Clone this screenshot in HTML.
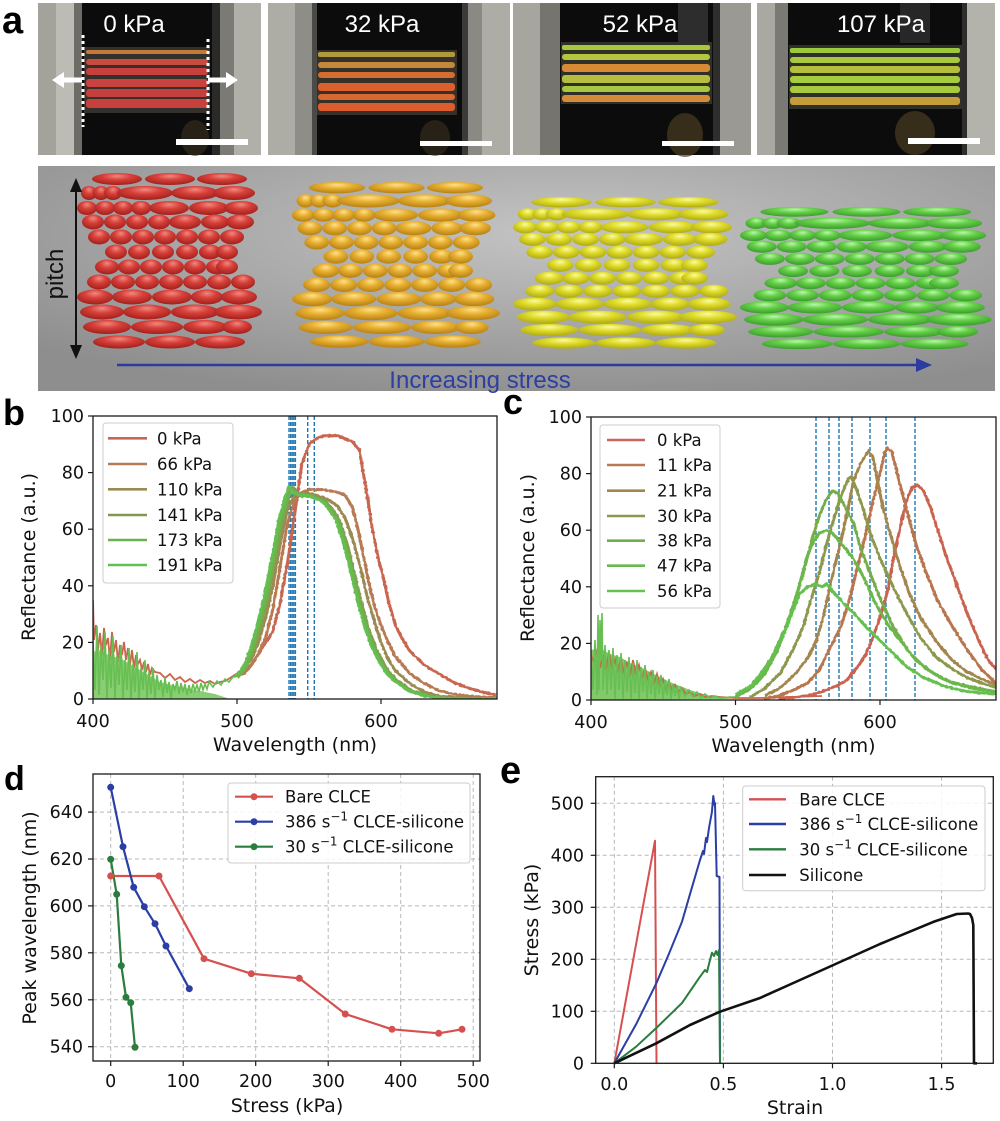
<!DOCTYPE html>
<html><head><meta charset="utf-8"><style>
html,body{margin:0;padding:0;background:#fff;}
svg{display:block;}
</style></head><body>
<svg width="1000" height="1121" viewBox="0 0 1000 1121" xmlns="http://www.w3.org/2000/svg">
<defs>
<radialGradient id="bgG" cx="0.55" cy="0.3" r="0.75"><stop offset="0" stop-color="#c4c4c4"/><stop offset="1" stop-color="#8e8e8e"/></radialGradient>
<radialGradient id="gR" cx="0.5" cy="0.35" fx="0.5" fy="0.25" r="0.7"><stop offset="0" stop-color="#f08a80"/><stop offset="0.4" stop-color="#d8403a"/><stop offset="1" stop-color="#9a1c18"/></radialGradient>
<radialGradient id="gO" cx="0.5" cy="0.35" fx="0.5" fy="0.25" r="0.7"><stop offset="0" stop-color="#ffe08a"/><stop offset="0.4" stop-color="#e8b030"/><stop offset="1" stop-color="#b07a12"/></radialGradient>
<radialGradient id="gY" cx="0.5" cy="0.35" fx="0.5" fy="0.25" r="0.7"><stop offset="0" stop-color="#fbfba0"/><stop offset="0.4" stop-color="#e0dc2a"/><stop offset="1" stop-color="#a8a412"/></radialGradient>
<radialGradient id="gG" cx="0.5" cy="0.35" fx="0.5" fy="0.25" r="0.7"><stop offset="0" stop-color="#b8f8a8"/><stop offset="0.4" stop-color="#66d048"/><stop offset="1" stop-color="#34962a"/></radialGradient>
<filter id="jit" x="-3%" y="-3%" width="106%" height="106%">
<feTurbulence type="fractalNoise" baseFrequency="0.35" numOctaves="1" seed="4" result="t"/>
<feDisplacementMap in="SourceGraphic" in2="t" scale="2.5" xChannelSelector="R" yChannelSelector="G"/>
</filter>
<clipPath id="cpB"><rect x="93" y="416" width="404" height="283"/></clipPath>
<clipPath id="cpC"><rect x="591" y="417" width="405" height="283"/></clipPath>
<g id="cl">
<ellipse cx="40" cy="6" rx="25" ry="6"/><ellipse cx="93" cy="6" rx="25" ry="6"/><ellipse cx="145" cy="6" rx="25" ry="6"/>
<ellipse cx="12" cy="20" rx="8" ry="7"/><ellipse cx="24" cy="20" rx="8" ry="7"/><ellipse cx="36" cy="20" rx="9" ry="7"/><ellipse cx="68" cy="20" rx="28" ry="7"/><ellipse cx="118" cy="20" rx="24" ry="7"/><ellipse cx="157" cy="20" rx="21" ry="7"/>
<ellipse cx="10" cy="35" rx="10" ry="7"/><ellipse cx="28" cy="35" rx="10" ry="7"/><ellipse cx="46" cy="35" rx="10" ry="7"/><ellipse cx="64" cy="35" rx="10" ry="7"/><ellipse cx="92" cy="35" rx="20" ry="7"/><ellipse cx="132" cy="35" rx="20" ry="7"/><ellipse cx="164" cy="35" rx="17" ry="7"/>
<ellipse cx="16" cy="49" rx="11" ry="7.5"/><ellipse cx="38" cy="49" rx="11" ry="7.5"/><ellipse cx="60" cy="49" rx="11" ry="7.5"/><ellipse cx="82" cy="49" rx="11" ry="7.5"/><ellipse cx="108" cy="49" rx="16" ry="7.5"/><ellipse cx="138" cy="49" rx="14" ry="7.5"/><ellipse cx="163" cy="49" rx="14" ry="7.5"/>
<ellipse cx="22" cy="64" rx="11" ry="7.5"/><ellipse cx="44" cy="64" rx="11" ry="7.5"/><ellipse cx="66" cy="64" rx="11" ry="7.5"/><ellipse cx="88" cy="64" rx="11" ry="7.5"/><ellipse cx="110" cy="64" rx="11" ry="7.5"/><ellipse cx="132" cy="64" rx="11" ry="7.5"/><ellipse cx="155" cy="64" rx="12" ry="7.5"/>
<ellipse cx="39" cy="79" rx="11" ry="7.5"/><ellipse cx="62" cy="79" rx="11" ry="7.5"/><ellipse cx="86" cy="79" rx="11" ry="7.5"/><ellipse cx="110" cy="79" rx="11" ry="7.5"/><ellipse cx="133" cy="79" rx="11" ry="7.5"/><ellipse cx="150" cy="79" rx="11" ry="7.5"/>
<ellipse cx="30" cy="94" rx="12" ry="7.5"/><ellipse cx="52" cy="94" rx="11" ry="7.5"/><ellipse cx="74" cy="94" rx="11" ry="7.5"/><ellipse cx="96" cy="94" rx="11" ry="7.5"/><ellipse cx="118" cy="94" rx="11" ry="7.5"/><ellipse cx="140" cy="94" rx="11" ry="7.5"/><ellipse cx="150" cy="94" rx="11" ry="7.5"/>
<ellipse cx="22" cy="109" rx="12" ry="7.5"/><ellipse cx="46" cy="109" rx="12" ry="7.5"/><ellipse cx="70" cy="109" rx="12" ry="7.5"/><ellipse cx="94" cy="109" rx="12" ry="7.5"/><ellipse cx="118" cy="109" rx="12" ry="7.5"/><ellipse cx="142" cy="109" rx="12" ry="7.5"/><ellipse cx="166" cy="109" rx="12" ry="7.5"/>
<ellipse cx="18" cy="124" rx="18" ry="7.5"/><ellipse cx="55" cy="124" rx="20" ry="7.5"/><ellipse cx="95" cy="124" rx="20" ry="7.5"/><ellipse cx="130" cy="124" rx="16" ry="7.5"/><ellipse cx="162" cy="124" rx="18" ry="7.5"/>
<ellipse cx="25" cy="139" rx="22" ry="7.5"/><ellipse cx="70" cy="139" rx="24" ry="7.5"/><ellipse cx="118" cy="139" rx="24" ry="7.5"/><ellipse cx="161" cy="139" rx="24" ry="7.5"/>
<ellipse cx="30" cy="154" rx="24" ry="7"/><ellipse cx="80" cy="154" rx="26" ry="7"/><ellipse cx="128" cy="154" rx="22" ry="7"/><ellipse cx="160" cy="154" rx="15" ry="7"/>
<ellipse cx="42" cy="169" rx="26" ry="6.5"/><ellipse cx="93" cy="169" rx="25" ry="6.5"/><ellipse cx="143" cy="169" rx="25" ry="6.5"/>
</g>
<path id="gb" fill="none" d="M237,676.4 L244.2,667.9 251.4,650.9 258.6,625.4 265.8,597.1 273,560.3 280.2,520.7 287.4,495.2 290.3,486.8 294.6,492.4 301.8,495.2 309,495.2 316.2,498.1 323.4,500.9 330.6,509.4 337.8,520.7 345,543.4 352.2,571.7 359.4,602.8 366.6,628.3 373.8,648.1 381,662.2 388.2,673.5 395.4,680.6 409.8,690.5 424.2,694.8 438.6,697.6 453,699 500,699"/>
</defs>

<rect width="1000" height="1121" fill="#fff"/>

<!-- ===== Panel a photos ===== -->
<g>
<rect x="38" y="3" width="223" height="152" fill="#aeada6"/>
<rect x="38" y="3" width="18" height="152" fill="#a3a29b"/>
<rect x="56" y="3" width="20" height="152" fill="#bcbbb4"/>
<rect x="74" y="3" width="8" height="152" fill="#6d6c67"/>
<rect x="82" y="3" width="130" height="152" fill="#0c0c0c"/>
<rect x="212" y="3" width="8" height="152" fill="#2a2a28"/>
<rect x="220" y="3" width="14" height="152" fill="#7b7a75"/>
<rect x="234" y="3" width="27" height="152" fill="#b0afa8"/>
<ellipse cx="195" cy="138" rx="14" ry="18" fill="#3a3020" opacity="0.6"/>
<rect x="84" y="47" width="126" height="66" fill="#34302c"/>
<g transform="translate(86,0)">
<rect y="50" width="122" height="4" rx="2" fill="#c07a3a"/>
<rect y="59" width="122" height="6" rx="3" fill="#c94a3e"/>
<rect y="68" width="122" height="7" rx="3" fill="#c8403e"/>
<rect y="79" width="122" height="8" rx="3" fill="#c8423f"/>
<rect y="89" width="122" height="8" rx="3" fill="#c4403c"/>
<rect y="99" width="122" height="9" rx="3" fill="#c6403d"/>
</g>
<line x1="83" y1="35" x2="83" y2="127" stroke="#fff" stroke-width="3" stroke-dasharray="3 3"/>
<line x1="208" y1="39" x2="208" y2="130" stroke="#fff" stroke-width="3" stroke-dasharray="3 3"/>
<line x1="82" y1="80" x2="62" y2="80" stroke="#fff" stroke-width="5"/>
<polygon points="52,80 64,72 64,88" fill="#fff"/>
<line x1="208" y1="80" x2="227" y2="80" stroke="#fff" stroke-width="5"/>
<polygon points="238,80 226,72 226,88" fill="#fff"/>
<rect x="176" y="139" width="72" height="6" fill="#fff"/>
<text x="134" y="32" font-family="Liberation Sans, sans-serif" font-size="24" fill="#fff" text-anchor="middle">0 kPa</text>
</g>

<g>
<rect x="268" y="3" width="242" height="152" fill="#adaca5"/>
<rect x="295" y="3" width="17" height="152" fill="#8e8d87"/>
<rect x="312" y="3" width="5" height="152" fill="#4a4a47"/>
<rect x="317" y="3" width="145" height="152" fill="#0c0c0c"/>
<rect x="462" y="3" width="6" height="152" fill="#3a3a38"/>
<rect x="468" y="3" width="14" height="152" fill="#8a8983"/>
<ellipse cx="435" cy="138" rx="15" ry="18" fill="#3a3020" opacity="0.6"/>
<rect x="317" y="50" width="140" height="65" fill="#35302a"/>
<g transform="translate(318,0)">
<rect y="52" width="137" height="5" rx="2" fill="#b09a3c"/>
<rect y="62" width="137" height="6" rx="3" fill="#c4883a"/>
<rect y="72" width="137" height="6" rx="3" fill="#d46e30"/>
<rect y="83" width="137" height="8" rx="3" fill="#dc602c"/>
<rect y="94" width="137" height="6" rx="3" fill="#d86830"/>
<rect y="103" width="137" height="8" rx="3" fill="#dc5c2c"/>
</g>
<rect x="420" y="141" width="72" height="5" fill="#fff"/>
<text x="382" y="32" font-family="Liberation Sans, sans-serif" font-size="24" fill="#fff" text-anchor="middle">32 kPa</text>
</g>

<g>
<rect x="513" y="3" width="238" height="152" fill="#a6a59e"/>
<rect x="540" y="3" width="20" height="152" fill="#75746f"/>
<rect x="560" y="3" width="153" height="152" fill="#0c0c0c"/>
<rect x="678" y="3" width="30" height="40" fill="#3c3c3c" opacity="0.7"/>
<rect x="713" y="3" width="7" height="152" fill="#2e2e2c"/>
<rect x="720" y="3" width="31" height="152" fill="#9a9993"/>
<ellipse cx="685" cy="135" rx="18" ry="22" fill="#4a3c22" opacity="0.7"/>
<rect x="561" y="42" width="151" height="62" fill="#303028"/>
<g transform="translate(562,0)">
<rect y="45" width="148" height="5" rx="2" fill="#a6c83c"/>
<rect y="54" width="148" height="6" rx="3" fill="#b4c640"/>
<rect y="64" width="148" height="8" rx="3" fill="#d68a34"/>
<rect y="75" width="148" height="8" rx="3" fill="#b6be40"/>
<rect y="86" width="148" height="6" rx="3" fill="#a6c83e"/>
<rect y="95" width="148" height="7" rx="3" fill="#d48c36"/>
</g>
<rect x="662" y="141" width="72" height="5" fill="#fff"/>
<text x="640" y="32" font-family="Liberation Sans, sans-serif" font-size="24" fill="#fff" text-anchor="middle">52 kPa</text>
</g>

<g>
<rect x="757" y="3" width="238" height="152" fill="#a9a8a1"/>
<rect x="775" y="3" width="13" height="152" fill="#7a7974"/>
<rect x="788" y="3" width="174" height="152" fill="#0c0c0c"/>
<rect x="900" y="3" width="30" height="40" fill="#3a3a3a" opacity="0.6"/>
<rect x="962" y="3" width="5" height="152" fill="#2e2e2c"/>
<rect x="967" y="3" width="28" height="152" fill="#b3b2ab"/>
<ellipse cx="915" cy="133" rx="20" ry="22" fill="#4a3c22" opacity="0.7"/>
<rect x="789" y="45" width="173" height="64" fill="#30302a"/>
<g transform="translate(790,0)">
<rect y="48" width="170" height="5" rx="2" fill="#9cc83c"/>
<rect y="57" width="170" height="6" rx="3" fill="#a8c840"/>
<rect y="66" width="170" height="7" rx="3" fill="#b4c03c"/>
<rect y="76" width="170" height="7" rx="3" fill="#a4cc3e"/>
<rect y="86" width="170" height="7" rx="3" fill="#a8c83e"/>
<rect y="97" width="170" height="8" rx="3" fill="#c49c38"/>
</g>
<rect x="908" y="138" width="72" height="6" fill="#fff"/>
<text x="881" y="32" font-family="Liberation Sans, sans-serif" font-size="24" fill="#fff" text-anchor="middle">107 kPa</text>
</g>

<!-- ===== Ellipsoid panel ===== -->
<rect x="38" y="166" width="957" height="225" fill="url(#bgG)"/>
<use href="#cl" fill="url(#gR)" transform="translate(77,173)"/>
<use href="#cl" fill="url(#gO)" transform="translate(292,182) scale(1.124,0.944)"/>
<use href="#cl" fill="url(#gY)" transform="translate(513,197) scale(1.21,0.864)"/>
<use href="#cl" fill="url(#gG)" transform="translate(740,207) scale(1.36,0.81)"/>
<line x1="76" y1="188" x2="76" y2="348" stroke="#111" stroke-width="2"/>
<polygon points="76,178 70,192 82,192" fill="#111"/>
<polygon points="76,359 70,345 82,345" fill="#111"/>
<text transform="translate(63,274) rotate(-90)" font-family="Liberation Sans, sans-serif" font-size="24" fill="#111" text-anchor="middle">pitch</text>
<line x1="117" y1="365" x2="920" y2="365" stroke="#2a3ca0" stroke-width="2.5"/>
<polygon points="932,365 916,358 916,372" fill="#2a3ca0"/>
<text x="480" y="388" font-family="Liberation Sans, sans-serif" font-size="24" fill="#2d3fa0" text-anchor="middle">Increasing stress</text>

<!-- panel letters -->
<g font-family="Liberation Sans, sans-serif" font-weight="bold" fill="#000">
<text x="2" y="33" font-size="38">a</text>
<text x="3" y="425" font-size="36">b</text>
<text x="503" y="414" font-size="36">c</text>
<text x="4" y="790" font-size="34">d</text>
<text x="500" y="783" font-size="38">e</text>
</g>

<!-- ===== Panel b ===== -->
<g clip-path="url(#cpB)">
<g stroke="#1f77b4" stroke-width="1.4" stroke-dasharray="4 2">
<line x1="289" y1="416" x2="289" y2="699"/><line x1="290.6" y1="416" x2="290.6" y2="699"/><line x1="292.2" y1="416" x2="292.2" y2="699"/><line x1="293.8" y1="416" x2="293.8" y2="699"/><line x1="295.4" y1="416" x2="295.4" y2="699"/>
<line x1="307.7" y1="416" x2="307.7" y2="699"/><line x1="314.3" y1="416" x2="314.3" y2="699"/>
</g>
<path fill="none" stroke="#c9664f" stroke-width="1.8" d="M93,600 L94,640 96,625 98,650 100,633 102,655 104,628 106,645 108,638 110,660 112,632 114,652 116,640 118,662 120,645 122,655 124,642 126,660 128,648 130,665 132,650 134,668 136,655 138,664 140,660 142,670 144,662 146,672 148,664 150,675 152,668 155,672 160,673 165,678 170,674 175,680 180,677 185,682 190,679 195,683 200,680 205,683 210,681 215,684 220,682 225,681 230,678 237,673.5"/>
<polygon points="93,652 100,650 110,656 120,658 130,664 140,670 150,676 160,682 175,686 195,690 215,694 230,699 93,699" fill="#6cc052" opacity="0.8"/>
<path fill="none" stroke="#66bf50" stroke-width="1.6" d="M93,640 L95,690 97,626 99,695 101,645 103,680 105,632 107,699 109,650 111,688 113,636 115,699 117,655 119,685 121,645 123,699 125,660 127,690 129,648 131,699 133,664 135,692 137,652 139,699 141,668 143,690 145,660 147,699 149,672 151,694 153,668 155,699 157,675 159,690 161,680 163,697 165,678 167,693 169,682 171,699 173,684 175,690 177,681 179,694 181,683 183,692 185,684 187,695 189,685 191,693 193,684 195,691 197,685 199,692 201,683 203,690 205,684 207,689 209,682 213,687 217,681 221,685 225,679 229,682 233,677 237,676.4"/>
<g filter="url(#jit)" fill="none" stroke-width="3" stroke-linejoin="round">
<path stroke="#c9664f" d="M237,673.5 L244.2,670.7 251.4,665 258.6,653.7 265.8,642.4 273,631.1 280.2,602.8 287.4,563.2 294.6,515 301.8,464.1 309,444.3 316.2,438.6 323.4,435.8 337.8,435.8 345,438.6 352.2,441.5 359.4,450 363.7,475.4 368,500.9 372.3,529.2 378.1,557.5 383.9,580.1 388.2,600 395.4,625.4 402.6,639.6 409.8,650.9 424.2,665 438.6,673.5 453,682 467.4,687.7 481.8,691.9 496.2,694.8"/>
<path stroke="#b77a52" d="M237,676.4 L244.2,673.5 251.4,665 258.6,653.7 265.8,636.7 273,608.4 280.2,566 287.4,523.5 294.6,500.9 301.8,492.4 309,489.6 323.4,489.6 337.8,492.4 345,495.2 352.2,506.6 358,529.2 363.7,557.5 369.5,585.8 375.2,608.4 381,625.4 388.2,642.4 395.4,656.6 409.8,673.5 424.2,683.4 438.6,690.5 453,693.9 467.4,696.2 496.2,697.6"/>
<path stroke="#9d8a52" d="M237,676.4 L251.4,659.4 258.6,642.4 265.8,616.9 273,585.8 280.2,543.4 287.4,509.4 294.6,495.2 301.8,492.4 316.2,495.2 330.6,500.9 337.8,506.6 345,517.9 352.2,537.7 359.4,563.2 366.6,594.3 373.8,619.8 381,642.4 388.2,659.4 395.4,670.7 409.8,683.4 424.2,691.9 438.6,696.2 467.4,698.2 500,699"/>
<use href="#gb" stroke="#82a04f" transform="translate(2,0)"/>
<use href="#gb" stroke="#6db24e" transform="translate(0.5,1)"/>
<use href="#gb" stroke="#63c050" transform="translate(-1.5,0)"/>
</g>
</g>
<rect x="93" y="416" width="404" height="283" fill="none" stroke="#1a1a1a" stroke-width="1.3"/>
<g fill="#fff" fill-opacity="0.85" stroke="#cccccc" stroke-width="1"><rect x="103" y="423" width="130" height="160" rx="3"/></g>
<g stroke-width="2.6">
<line x1="108" y1="438.3" x2="147" y2="438.3" stroke="#c8645a"/>
<line x1="108" y1="464" x2="147" y2="464" stroke="#b87a55"/>
<line x1="108" y1="489.3" x2="147" y2="489.3" stroke="#9c8a55"/>
<line x1="108" y1="515" x2="147" y2="515" stroke="#7f9a50"/>
<line x1="108" y1="540" x2="147" y2="540" stroke="#6cb050"/>
<line x1="108" y1="565" x2="147" y2="565" stroke="#62c050"/>
</g>
<g font-family="DejaVu Sans, sans-serif" font-size="16.5" fill="#111">
<text x="157" y="444.3">0 kPa</text><text x="157" y="470">66 kPa</text><text x="157" y="495.3">110 kPa</text><text x="157" y="521">141 kPa</text><text x="157" y="546">173 kPa</text><text x="157" y="571">191 kPa</text>
</g>
<g stroke="#1a1a1a" stroke-width="1.2">
<line x1="88" y1="699" x2="93" y2="699"/><line x1="88" y1="642.4" x2="93" y2="642.4"/><line x1="88" y1="585.8" x2="93" y2="585.8"/><line x1="88" y1="529.2" x2="93" y2="529.2"/><line x1="88" y1="472.6" x2="93" y2="472.6"/><line x1="88" y1="416" x2="93" y2="416"/>
<line x1="93" y1="699" x2="93" y2="704"/><line x1="237" y1="699" x2="237" y2="704"/><line x1="381" y1="699" x2="381" y2="704"/>
</g>
<g font-family="DejaVu Sans, sans-serif" font-size="17.5" fill="#111" text-anchor="end">
<text x="84" y="705">0</text><text x="84" y="648.4">20</text><text x="84" y="591.8">40</text><text x="84" y="535.2">60</text><text x="84" y="478.6">80</text><text x="84" y="422">100</text>
</g>
<g font-family="DejaVu Sans, sans-serif" font-size="17.5" fill="#111" text-anchor="middle">
<text x="93" y="727">400</text><text x="237" y="727">500</text><text x="381" y="727">600</text>
</g>
<text x="295" y="751" font-family="DejaVu Sans, sans-serif" font-size="19" fill="#111" text-anchor="middle">Wavelength (nm)</text>
<text transform="translate(35,557) rotate(-90)" font-family="DejaVu Sans, sans-serif" font-size="19" fill="#111" text-anchor="middle">Reflectance (a.u.)</text>

<!-- ===== Panel c ===== -->
<g clip-path="url(#cpC)">
<g stroke="#1f77b4" stroke-width="1.4" stroke-dasharray="4 2">
<line x1="816" y1="417" x2="816" y2="700"/><line x1="829" y1="417" x2="829" y2="700"/><line x1="839" y1="417" x2="839" y2="700"/><line x1="852" y1="417" x2="852" y2="700"/><line x1="870" y1="417" x2="870" y2="700"/><line x1="886" y1="417" x2="886" y2="700"/><line x1="915" y1="417" x2="915" y2="700"/>
</g>
<polygon points="591,650 600,648 610,654 620,657 630,663 640,667 650,672 660,677 670,682 690,690 710,696 730,699 591,700" fill="#6cc052" opacity="0.85"/>
<path fill="none" stroke="#c9664f" stroke-width="1.8" d="M591,655 L594,662 597,650 600,668 603,655 606,670 609,652 612,668 615,660 618,672 621,658 624,674 627,662 630,676 633,660 636,675 639,665 642,678 645,668 648,680 651,672 654,684 657,674 660,686 663,679 666,690 669,682 672,690 675,685 678,692 682,688 686,694 690,692 695,696 700,694 705,697 712,696 720,697 735,698 760,698 790,697 822,696"/>
<path fill="none" stroke="#66bf50" stroke-width="1.6" d="M591,650 L593,690 595,640 597,695 598,615 599,690 600,620 601,660 602,613 603,690 605,645 607,695 609,650 611,690 613,648 615,699 617,655 619,690 621,653 623,699 625,660 627,692 629,657 631,699 633,663 635,693 637,660 639,699 641,667 643,692 645,665 647,699 649,672 651,694 653,670 655,699 657,676 659,694 661,675 663,699 665,680 667,695 669,679 671,699 673,684 675,696 677,686 679,699 681,688 685,696 689,690 693,697 697,692 701,698 705,694 710,698 715,696 720,698 730,697 735,697"/>
<g filter="url(#jit)" fill="none" stroke-width="3" stroke-linejoin="round">
<path stroke="#c9644f" d="M778.9,698.6 L793.3,697.2 807.8,695.8 822.2,691.5 836.7,685.9 846.8,680.2 858.3,666 865.6,654.7 872.8,637.7 880,617.9 887.2,592.5 894.5,552.8 900.2,527.4 906,501.9 911.8,487.8 917.6,484.9 923.4,490.6 930.6,507.6 937.8,530.2 945,552.8 952.3,572.7 959.5,592.5 966.7,612.3 973.9,629.3 981.2,646.2 988.4,660.4 995.6,668.9 1000,672"/>
<path stroke="#b8764f" d="M764.4,698.6 L778.9,695.8 793.3,690.1 807.8,683 819.3,670 829.4,649.1 841,626.4 848.2,603.8 854,581.1 861.2,552.8 867,527.4 872.8,501.9 880,473.6 884.3,453.8 887.2,448.1 891.6,450.9 897.3,473.6 906,507.6 916.1,544.4 926.2,572.7 937.8,601 952.3,626.4 966.7,649.1 981.2,668.9 995.6,683 1000,686"/>
<path stroke="#a3864e" d="M764.4,695.8 L778.9,688.7 796.2,673.1 807.8,657.6 816.4,640.6 822.2,620.8 829.4,589.6 835.2,564.2 841,541.5 848.2,507.6 854,479.3 861.2,462.3 868.4,451 872.8,456.6 877.1,479.3 882.9,507.6 891.6,538.7 900.2,567 908.9,592.5 920.5,617.9 937.8,643.4 952.3,660.4 966.7,671.7 981.2,678.8 995.6,684.4 1000,686"/>
<path stroke="#8c984d" d="M750,697.2 L764.4,688.7 780.3,673.1 793.3,649.1 803.4,626.4 810.6,601 819.3,572.7 826.5,544.4 833.8,518.9 841,496.2 848.2,479.3 851.1,476.4 856.9,490.6 862.7,507.6 871.3,535.9 880,558.5 894.5,589.6 906,612.3 920.5,637.7 936.4,657.6 952.3,668.9 966.7,677.4 981.2,683 995.6,687.3 1000,688"/>
<path stroke="#74ad4c" d="M735.5,697.2 L750,688.7 763,673.1 774.5,651.9 786.1,626.4 794.7,601 803.4,572.7 812.1,538.7 819.3,516 826.5,499.1 832.3,490.6 838.1,493.4 845.3,507.6 854,524.5 861.2,550 869.9,572.7 880,598.1 893,626.4 908.9,651.9 926.2,668.9 945,680.2 966.7,685.9 986.9,690.1 995.6,691.5 1000,692"/>
<path stroke="#6bb84c" d="M735.5,695.8 L752.8,686.7 764.4,674.5 776,653.3 784.6,632.1 793.3,606.6 800.5,581.1 806.3,558.5 813.5,541.5 819.3,533 826.5,530.2 832.3,533 839.5,541.5 846.8,550 854,559.9 864.1,578.3 874.2,601 887.2,623.6 900.2,640.6 916.1,660.4 933.5,673.1 952.3,683 973.9,688.7 995.6,691.5 1000,692"/>
<path stroke="#65c150" d="M735.5,694.3 L750,686.7 760.1,674.5 770.2,660.4 778.9,643.4 786.8,626.4 793.3,609.4 799.9,593.3 807.8,586.8 815,584 822.2,586.8 826.5,584 833.8,592.5 843.9,603.8 854,613.4 865.6,626.4 880,640.6 894.5,654.7 906.7,666.9 923.4,677.4 945.9,686.7 966.7,691.5 995.6,694.3 1000,695"/>
</g>
</g>
<rect x="591" y="417" width="405" height="283" fill="none" stroke="#1a1a1a" stroke-width="1.3"/>
<g fill="#fff" fill-opacity="0.85" stroke="#cccccc" stroke-width="1"><rect x="600" y="425" width="120" height="183" rx="3"/></g>
<g stroke-width="2.6">
<line x1="607" y1="440" x2="645" y2="440" stroke="#c8645a"/>
<line x1="607" y1="465" x2="645" y2="465" stroke="#b87a55"/>
<line x1="607" y1="490.7" x2="645" y2="490.7" stroke="#a3864e"/>
<line x1="607" y1="516" x2="645" y2="516" stroke="#8c984d"/>
<line x1="607" y1="540.7" x2="645" y2="540.7" stroke="#6fae4c"/>
<line x1="607" y1="565.7" x2="645" y2="565.7" stroke="#6bb84c"/>
<line x1="607" y1="591" x2="645" y2="591" stroke="#65c150"/>
</g>
<g font-family="DejaVu Sans, sans-serif" font-size="16.5" fill="#111">
<text x="657" y="446">0 kPa</text><text x="657" y="471">11 kPa</text><text x="657" y="496.7">21 kPa</text><text x="657" y="522">30 kPa</text><text x="657" y="546.7">38 kPa</text><text x="657" y="571.7">47 kPa</text><text x="657" y="597">56 kPa</text>
</g>
<g stroke="#1a1a1a" stroke-width="1.2">
<line x1="586" y1="700" x2="591" y2="700"/><line x1="586" y1="643.4" x2="591" y2="643.4"/><line x1="586" y1="586.8" x2="591" y2="586.8"/><line x1="586" y1="530.2" x2="591" y2="530.2"/><line x1="586" y1="473.6" x2="591" y2="473.6"/><line x1="586" y1="417" x2="591" y2="417"/>
<line x1="591" y1="700" x2="591" y2="705"/><line x1="735.5" y1="700" x2="735.5" y2="705"/><line x1="880" y1="700" x2="880" y2="705"/>
</g>
<g font-family="DejaVu Sans, sans-serif" font-size="17.5" fill="#111" text-anchor="end">
<text x="582" y="706">0</text><text x="582" y="649.4">20</text><text x="582" y="592.8">40</text><text x="582" y="536.2">60</text><text x="582" y="479.6">80</text><text x="582" y="423">100</text>
</g>
<g font-family="DejaVu Sans, sans-serif" font-size="17.5" fill="#111" text-anchor="middle">
<text x="591" y="728">400</text><text x="735.5" y="728">500</text><text x="880" y="728">600</text>
</g>
<text x="793.5" y="752" font-family="DejaVu Sans, sans-serif" font-size="19" fill="#111" text-anchor="middle">Wavelength (nm)</text>
<text transform="translate(534,558) rotate(-90)" font-family="DejaVu Sans, sans-serif" font-size="19" fill="#111" text-anchor="middle">Reflectance (a.u.)</text>

<!-- ===== Panel d ===== -->
<g stroke="#b8b8b8" stroke-width="1" stroke-dasharray="4 3">
<line x1="110.7" y1="774" x2="110.7" y2="1061"/><line x1="183.2" y1="774" x2="183.2" y2="1061"/><line x1="255.7" y1="774" x2="255.7" y2="1061"/><line x1="328.2" y1="774" x2="328.2" y2="1061"/><line x1="400.7" y1="774" x2="400.7" y2="1061"/><line x1="473.2" y1="774" x2="473.2" y2="1061"/>
<line x1="93" y1="1046.7" x2="480" y2="1046.7"/><line x1="93" y1="999.8" x2="480" y2="999.8"/><line x1="93" y1="952.8" x2="480" y2="952.8"/><line x1="93" y1="905.9" x2="480" y2="905.9"/><line x1="93" y1="859" x2="480" y2="859"/><line x1="93" y1="812.1" x2="480" y2="812.1"/>
</g>
<g fill="none" stroke-width="2.2" stroke-linejoin="round">
<polyline stroke="#d65050" points="110.7,876 159,876 204,958.7 251.3,973.7 299.3,978.3 345.3,1014 392,1029.3 438.7,1033.3 462,1029.3"/>
<polyline stroke="#2a3ea5" points="110.7,787.3 123,846.7 133.7,887.3 144.3,906.7 155,923.7 166,946 189.3,988.7"/>
<polyline stroke="#2b7d3f" points="110.7,859.3 116.7,894.3 121.3,965.7 126,997.3 130.7,1002.7 135,1047.3"/>
</g>
<g fill="#d65050"><circle cx="110.7" cy="876" r="3.5"/><circle cx="159" cy="876" r="3.5"/><circle cx="204" cy="958.7" r="3.5"/><circle cx="251.3" cy="973.7" r="3.5"/><circle cx="299.3" cy="978.3" r="3.5"/><circle cx="345.3" cy="1014" r="3.5"/><circle cx="392" cy="1029.3" r="3.5"/><circle cx="438.7" cy="1033.3" r="3.5"/><circle cx="462" cy="1029.3" r="3.5"/></g>
<g fill="#2a3ea5"><circle cx="110.7" cy="787.3" r="3.5"/><circle cx="123" cy="846.7" r="3.5"/><circle cx="133.7" cy="887.3" r="3.5"/><circle cx="144.3" cy="906.7" r="3.5"/><circle cx="155" cy="923.7" r="3.5"/><circle cx="166" cy="946" r="3.5"/><circle cx="189.3" cy="988.7" r="3.5"/></g>
<g fill="#2b7d3f"><circle cx="110.7" cy="859.3" r="3.5"/><circle cx="116.7" cy="894.3" r="3.5"/><circle cx="121.3" cy="965.7" r="3.5"/><circle cx="126" cy="997.3" r="3.5"/><circle cx="130.7" cy="1002.7" r="3.5"/><circle cx="135" cy="1047.3" r="3.5"/></g>
<rect x="93" y="774" width="387" height="287" fill="none" stroke="#1a1a1a" stroke-width="1.3"/>
<rect x="228" y="783" width="242" height="80" rx="3" fill="#fff" fill-opacity="0.85" stroke="#cccccc"/>
<g stroke-width="2.2">
<line x1="235" y1="796.7" x2="273" y2="796.7" stroke="#d65050"/><circle cx="254" cy="796.7" r="3.5" fill="#d65050"/>
<line x1="235" y1="821.7" x2="273" y2="821.7" stroke="#2a3ea5"/><circle cx="254" cy="821.7" r="3.5" fill="#2a3ea5"/>
<line x1="235" y1="846.7" x2="273" y2="846.7" stroke="#2b7d3f"/><circle cx="254" cy="846.7" r="3.5" fill="#2b7d3f"/>
</g>
<g font-family="DejaVu Sans, sans-serif" font-size="16.5" fill="#111">
<text x="285" y="802.7">Bare CLCE</text>
<text x="285" y="827.7">386 s<tspan font-size="12" dy="-7">−1</tspan><tspan dy="7"> CLCE-silicone</tspan></text>
<text x="285" y="852.7">30 s<tspan font-size="12" dy="-7">−1</tspan><tspan dy="7"> CLCE-silicone</tspan></text>
</g>
<g stroke="#1a1a1a" stroke-width="1.2">
<line x1="110.7" y1="1061" x2="110.7" y2="1066"/><line x1="183.2" y1="1061" x2="183.2" y2="1066"/><line x1="255.7" y1="1061" x2="255.7" y2="1066"/><line x1="328.2" y1="1061" x2="328.2" y2="1066"/><line x1="400.7" y1="1061" x2="400.7" y2="1066"/><line x1="473.2" y1="1061" x2="473.2" y2="1066"/>
<line x1="88" y1="1046.7" x2="93" y2="1046.7"/><line x1="88" y1="999.8" x2="93" y2="999.8"/><line x1="88" y1="952.8" x2="93" y2="952.8"/><line x1="88" y1="905.9" x2="93" y2="905.9"/><line x1="88" y1="859" x2="93" y2="859"/><line x1="88" y1="812.1" x2="93" y2="812.1"/>
</g>
<g font-family="DejaVu Sans, sans-serif" font-size="17.5" fill="#111" text-anchor="end">
<text x="83" y="1052.7">540</text><text x="83" y="1005.8">560</text><text x="83" y="958.8">580</text><text x="83" y="911.9">600</text><text x="83" y="865">620</text><text x="83" y="818.1">640</text>
</g>
<g font-family="DejaVu Sans, sans-serif" font-size="17.5" fill="#111" text-anchor="middle">
<text x="110.7" y="1087">0</text><text x="183.2" y="1087">100</text><text x="255.7" y="1087">200</text><text x="328.2" y="1087">300</text><text x="400.7" y="1087">400</text><text x="473.2" y="1087">500</text>
</g>
<text x="287" y="1112" font-family="DejaVu Sans, sans-serif" font-size="19" fill="#111" text-anchor="middle">Stress (kPa)</text>
<text transform="translate(36,918) rotate(-90)" font-family="DejaVu Sans, sans-serif" font-size="19" fill="#111" text-anchor="middle">Peak wavelength (nm)</text>

<!-- ===== Panel e ===== -->
<g stroke="#b8b8b8" stroke-width="1" stroke-dasharray="4 3">
<line x1="614.3" y1="776.7" x2="614.3" y2="1063.3"/><line x1="723.4" y1="776.7" x2="723.4" y2="1063.3"/><line x1="832.5" y1="776.7" x2="832.5" y2="1063.3"/><line x1="941.6" y1="776.7" x2="941.6" y2="1063.3"/>
<line x1="595.7" y1="1011.3" x2="993.3" y2="1011.3"/><line x1="595.7" y1="959.3" x2="993.3" y2="959.3"/><line x1="595.7" y1="907.3" x2="993.3" y2="907.3"/><line x1="595.7" y1="855.3" x2="993.3" y2="855.3"/><line x1="595.7" y1="803.3" x2="993.3" y2="803.3"/>
</g>
<g fill="none" stroke-width="2" stroke-linejoin="round">
<polyline stroke="#d65050" points="614.3,1063.3 655,840.7 656.5,1063.3"/>
<polyline stroke="#2a3ea5" points="614.3,1063.3 636.1,1024.3 656.3,983.3 668.8,954.1 682,921.7 690.7,891.7 700,860 703,851 704,854 706,838 707,842 709,828 711.9,812 713.3,796 714.5,805 715,803 716.7,876 719.5,877 720,1063.3"/>
<polyline stroke="#2b7d3f" points="614.3,1063.3 636.1,1046.7 656.3,1028 682,1003 700,976.7 705,970 707,972 710,960 712,952.7 714,956 716,951 717.5,955 719,950 720,1063.3"/>
<polyline stroke="#111" stroke-width="2.6" points="614.3,1063.3 656.3,1043.3 690,1025 719.7,1011.8 760,998 800,980 833.4,965 880,944 933.3,921.9 956.7,914 968,913.5 970,914 972,918 973.3,925 974,1063.3 977,1063.3"/>
</g>
<rect x="595.7" y="776.7" width="397.6" height="286.6" fill="none" stroke="#1a1a1a" stroke-width="1.3"/>
<rect x="742.7" y="786" width="242.3" height="104.7" rx="3" fill="#fff" fill-opacity="0.85" stroke="#cccccc"/>
<g stroke-width="2.4">
<line x1="749" y1="799.3" x2="786" y2="799.3" stroke="#d65050"/>
<line x1="749" y1="824" x2="786" y2="824" stroke="#2a3ea5"/>
<line x1="749" y1="849.3" x2="786" y2="849.3" stroke="#2b7d3f"/>
<line x1="749" y1="875" x2="786" y2="875" stroke="#111"/>
</g>
<g font-family="DejaVu Sans, sans-serif" font-size="16.5" fill="#111">
<text x="799.3" y="805.3">Bare CLCE</text>
<text x="799.3" y="830">386 s<tspan font-size="12" dy="-7">−1</tspan><tspan dy="7"> CLCE-silicone</tspan></text>
<text x="799.3" y="855.3">30 s<tspan font-size="12" dy="-7">−1</tspan><tspan dy="7"> CLCE-silicone</tspan></text>
<text x="799.3" y="881">Silicone</text>
</g>
<g stroke="#1a1a1a" stroke-width="1.2">
<line x1="614.3" y1="1063.3" x2="614.3" y2="1068.3"/><line x1="723.4" y1="1063.3" x2="723.4" y2="1068.3"/><line x1="832.5" y1="1063.3" x2="832.5" y2="1068.3"/><line x1="941.6" y1="1063.3" x2="941.6" y2="1068.3"/>
<line x1="590.7" y1="1063.3" x2="595.7" y2="1063.3"/><line x1="590.7" y1="1011.3" x2="595.7" y2="1011.3"/><line x1="590.7" y1="959.3" x2="595.7" y2="959.3"/><line x1="590.7" y1="907.3" x2="595.7" y2="907.3"/><line x1="590.7" y1="855.3" x2="595.7" y2="855.3"/><line x1="590.7" y1="803.3" x2="595.7" y2="803.3"/>
</g>
<g font-family="DejaVu Sans, sans-serif" font-size="17.5" fill="#111" text-anchor="end">
<text x="584" y="1069.3">0</text><text x="584" y="1017.3">100</text><text x="584" y="965.3">200</text><text x="584" y="913.3">300</text><text x="584" y="861.3">400</text><text x="584" y="809.3">500</text>
</g>
<g font-family="DejaVu Sans, sans-serif" font-size="17.5" fill="#111" text-anchor="middle">
<text x="614.3" y="1090">0.0</text><text x="723.4" y="1090">0.5</text><text x="832.5" y="1090">1.0</text><text x="941.6" y="1090">1.5</text>
</g>
<text x="795" y="1114" font-family="DejaVu Sans, sans-serif" font-size="19" fill="#111" text-anchor="middle">Strain</text>
<text transform="translate(538,920) rotate(-90)" font-family="DejaVu Sans, sans-serif" font-size="19" fill="#111" text-anchor="middle">Stress (kPa)</text>
</svg>
</body></html>
